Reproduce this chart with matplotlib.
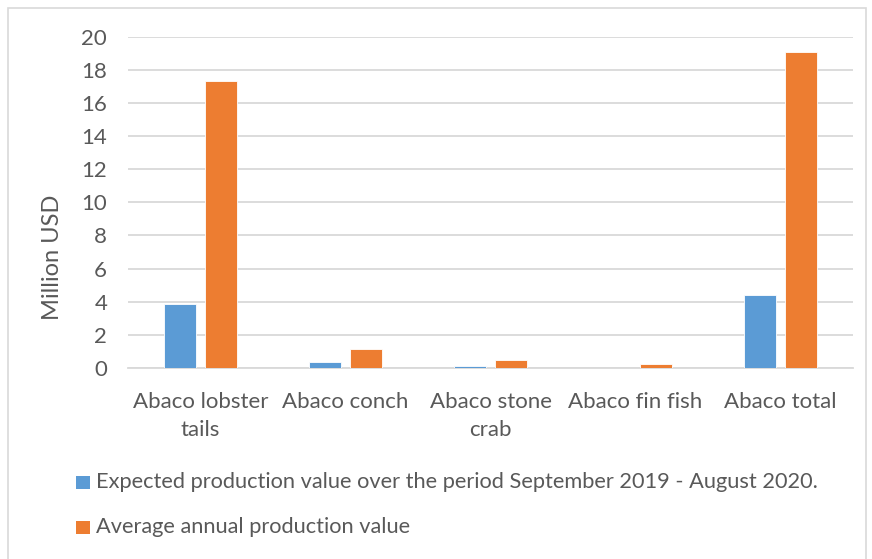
import matplotlib
matplotlib.use("Agg")
import matplotlib.pyplot as plt
import numpy as np
from matplotlib.patches import Rectangle

categories = ["Abaco lobster\ntails", "Abaco conch", "Abaco stone\ncrab", "Abaco fin fish", "Abaco total"]
expected = [3.88, 0.34, 0.12, 0.0, 4.42]
average = [17.3, 1.15, 0.48, 0.24, 19.05]
series_names = ["Expected production value over the period September 2019 - August 2020.",
                "Average annual production value"]
yticks = [0, 2, 4, 6, 8, 10, 12, 14, 16, 18, 20]

plt.rcParams['font.family'] = ['Lato', 'DejaVu Sans']
txt = '#595959'
blue = '#5B9BD5'
orange = '#ED7D31'
colors = [blue, orange]

W, H = 872, 559
fig = plt.figure(figsize=(W/100, H/100), dpi=100)
ax = fig.add_axes([128/W, 1-368/H, (853-128)/W, (368-36.7)/H])

x = np.arange(len(categories))
w = 0.22
off = 0.141
ax.bar(x - off, expected, w, color=blue, edgecolor='white', linewidth=0.6, zorder=3)
ax.bar(x + off, average, w, color=orange, edgecolor='white', linewidth=0.6, zorder=3)

ax.set_xlim(-0.5, len(categories) - 0.5)
ax.set_ylim(0, 20)
ax.set_yticks(yticks)
ax.set_yticklabels([str(t) for t in yticks], color=txt, fontsize=16)
ax.set_xticks(x)
ax.set_xticklabels(categories, color=txt, fontsize=16, linespacing=1.5)
ax.tick_params(axis='both', length=0)
ax.tick_params(axis='y', pad=15)
ax.tick_params(axis='x', pad=17)
ax.grid(axis='y', color='#d9d9d9', linewidth=1.3, zorder=0)
for s in ['top', 'right', 'left']:
    ax.spines[s].set_visible(False)
ax.spines['bottom'].set_color('#d9d9d9')
ax.spines['bottom'].set_linewidth(1.3)
ax.set_ylabel("Million USD", color=txt, fontsize=17)
ax.yaxis.set_label_coords(-0.089, 0.335)

# outer border
fig.patches.append(Rectangle((8/W, -0.01), (866-8)/W, 1 - 8/H + 0.01, transform=fig.transFigure,
                             fill=False, edgecolor='#d9d9d9', linewidth=1.2))

# legend (drawn manually for exact placement)
leg_y = [482, 527]
for name, c, yy in zip(series_names, colors, leg_y):
    fig.patches.append(Rectangle((76/W, 1 - (yy + 6.5)/H), 14/W, 13/H, transform=fig.transFigure,
                                 facecolor=c, edgecolor='none'))
    fig.text(96/W, 1 - yy/H, name, color=txt, fontsize=15.7, va='center', ha='left')

fig.savefig("out.png", dpi=100)
